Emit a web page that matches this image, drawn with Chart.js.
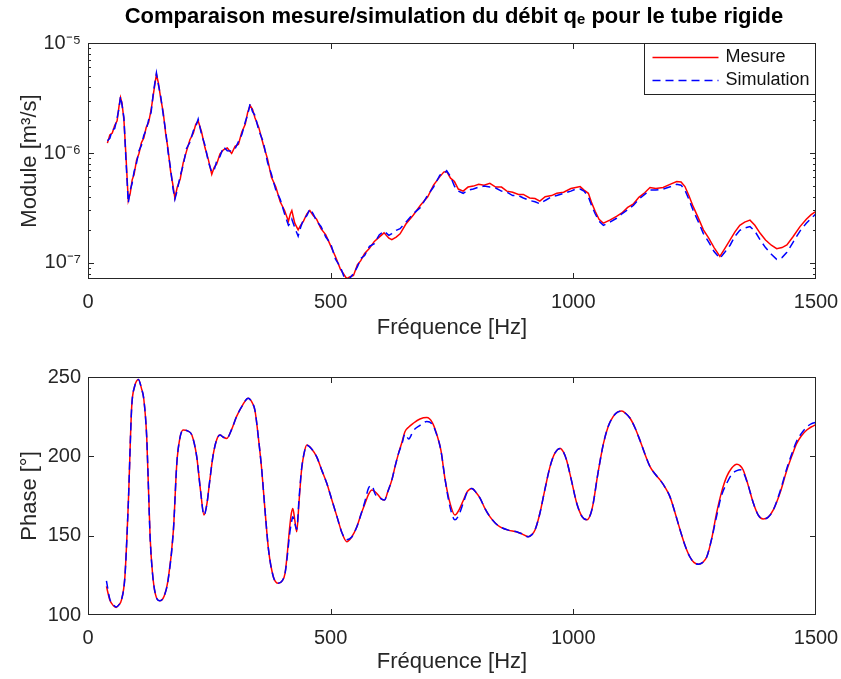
<!DOCTYPE html>
<html>
<head>
<meta charset="utf-8">
<script src="https://cdn.jsdelivr.net/npm/chart.js@4.4.1/dist/chart.umd.min.js"></script>
<style>
  body { margin: 0; background: #fff; overflow: hidden; }
  .panel { position: absolute; left: 0; width: 841px; }
</style>
</head>
<body>
<div class="panel" style="top:0;height:345px"><canvas id="moduleChart"></canvas></div>
<div class="panel" style="top:345px;height:334px"><canvas id="phaseChart"></canvas></div>
<script>
// --- module |q_e| (values in units of 1e-7 m3/s) ---
const moduleFreq = [
  40, 45, 50, 55, 60, 64, 67, 70, 74, 78,
  83, 87, 91, 95, 100, 105, 110, 115, 120, 125,
  130, 135, 141, 145, 150, 155, 160, 165, 170, 175,
  179, 184, 190, 196, 203, 210, 217, 222, 227, 234,
  241, 248, 255, 260, 265, 272, 279, 287, 296, 303,
  310, 317, 324, 329, 334, 339, 344, 352, 361, 370,
  378, 387, 396, 405, 413, 417, 420, 426, 433, 438,
  444, 451, 457, 464, 471, 480, 490, 500, 510, 520,
  527, 533, 540, 547, 555, 562, 570, 580, 590, 600,
  610, 620, 626, 635, 643, 655, 670, 685, 700, 712,
  725, 733, 739, 747, 755, 763, 773, 783, 794, 805,
  816, 828, 840, 852, 863, 875, 887, 897, 910, 921,
  931, 942, 955, 966, 980, 995, 1005, 1014, 1022, 1031,
  1038, 1045, 1053, 1062, 1075, 1089, 1100, 1112, 1124, 1135,
  1147, 1158, 1170, 1185, 1198, 1213, 1222, 1230, 1238, 1247,
  1257, 1268, 1279, 1290, 1302, 1312, 1323, 1333, 1343, 1353,
  1364, 1374, 1385, 1396, 1408, 1419, 1430, 1440, 1453, 1467,
  1480, 1490, 1500
];
const moduleMesure = [
  12.3, 14.6, 15.2, 17.8, 19.6, 26.8, 32.0, 28.6, 20.0, 9.8,
  3.7, 4.3, 5.7, 6.4, 8.6, 9.9, 12.4, 13.7, 17.1, 19.0,
  24.6, 34.8, 52.0, 43.4, 31.0, 23.4, 15.1, 10.8, 6.9, 5.1,
  3.9, 4.9, 5.8, 8.1, 10.4, 13.2, 15.1, 18.2, 19.6, 15.5,
  11.2, 8.7, 6.4, 7.4, 7.9, 9.8, 10.7, 11.1, 9.9, 11.5,
  12.0, 15.5, 18.2, 23.4, 27.0, 25.0, 20.9, 17.0, 12.0, 8.8,
  6.0, 4.9, 3.6, 3.0, 2.4, 2.8, 3.0, 2.3, 2.0, 2.2,
  2.4, 2.8, 3.0, 2.7, 2.5, 2.05, 1.80, 1.43, 1.14, 0.88,
  0.79, 0.72, 0.75, 0.77, 0.96, 1.05, 1.22, 1.36, 1.57, 1.72,
  1.88, 1.68, 1.63, 1.72, 1.84, 2.26, 2.72, 3.35, 4.0, 5.1,
  6.1, 6.7, 6.8, 5.9, 5.5, 4.7, 4.5, 4.9, 5.0, 5.2,
  5.1, 5.3, 4.9, 4.9, 4.5, 4.4, 4.2, 4.2, 3.9, 3.85,
  3.65, 4.0, 4.1, 4.3, 4.4, 4.75, 4.85, 4.95, 4.6, 4.3,
  3.5, 2.95, 2.5, 2.3, 2.45, 2.65, 2.85, 3.2, 3.45, 3.95,
  4.35, 4.85, 4.75, 4.85, 5.15, 5.5, 5.45, 4.95, 4.1, 3.25,
  2.6, 2.0, 1.68, 1.38, 1.15, 1.35, 1.62, 1.92, 2.2, 2.35,
  2.45, 2.2, 1.86, 1.62, 1.45, 1.35, 1.38, 1.46, 1.74, 2.14,
  2.5, 2.75, 2.95
];
const moduleSimulation = [
  12.9, 13.6, 16.2, 16.7, 20.8, 25.6, 32.8, 27.5, 21.0, 9.0,
  3.5, 4.6, 5.3, 6.8, 8.1, 10.5, 11.7, 14.5, 16.2, 20.1,
  23.4, 36.2, 53.5, 41.8, 32.4, 22.3, 15.9, 10.2, 7.3, 4.8,
  3.8, 4.6, 6.2, 7.7, 11.0, 12.5, 15.9, 17.4, 20.3, 14.7,
  11.8, 8.3, 6.7, 7.0, 8.4, 9.3, 11.4, 10.5, 10.4, 10.9,
  12.7, 14.7, 19.1, 22.3, 28.0, 23.8, 22.0, 16.0, 12.7, 8.2,
  6.4, 4.6, 3.8, 2.8, 2.2, 2.3, 2.5, 2.1, 1.75, 2.1,
  2.5, 2.7, 3.1, 2.8, 2.4, 2.15, 1.72, 1.50, 1.08, 0.92,
  0.76, 0.70, 0.73, 0.80, 0.92, 1.10, 1.17, 1.42, 1.50, 1.80,
  1.95, 1.78, 1.85, 1.98, 2.05, 2.35, 2.80, 3.20, 4.15, 4.9,
  6.3, 6.4, 6.9, 6.1, 5.0, 4.5, 4.3, 4.6, 4.7, 4.9,
  5.0, 4.9, 4.8, 4.5, 4.4, 4.1, 4.1, 3.9, 3.7, 3.6,
  3.45, 3.7, 4.0, 4.1, 4.3, 4.5, 4.7, 4.7, 4.5, 4.0,
  3.3, 2.8, 2.4, 2.2, 2.35, 2.55, 2.8, 3.05, 3.35, 3.8,
  4.2, 4.6, 4.6, 4.7, 4.9, 5.2, 5.1, 4.6, 3.8, 3.0,
  2.4, 1.85, 1.55, 1.27, 1.10, 1.25, 1.45, 1.75, 1.98, 2.08,
  2.14, 1.95, 1.62, 1.38, 1.20, 1.08, 1.12, 1.25, 1.55, 1.95,
  2.3, 2.55, 2.8
];
const moduleTicks = [1e-7, 1e-6, 1e-5];
const moduleTickLabels = ['10\u207B\u2077', '10\u207B\u2076', '10\u207B\u2075'];

// --- phase (degrees) ---
const phaseFreq = [
  38, 45, 52, 58, 64, 69, 76, 83, 90, 96,
  104, 110, 115, 121, 128, 133, 139, 148, 157, 165,
  176, 183, 189, 196, 205, 214, 224, 232, 239, 245,
  251, 258, 265, 272, 279, 286, 296, 306, 318, 330,
  338, 344, 351, 358, 365, 372, 382, 392, 400, 406,
  411, 415, 419, 422, 426, 430, 435, 440, 446, 451,
  460, 471, 482, 492, 502, 513, 523, 533, 543, 554,
  562, 571, 578, 585, 592, 598, 605, 611, 618, 626,
  633, 640, 647, 653, 661, 670, 684, 698, 710, 718,
  727, 736, 746, 756, 764, 773, 782, 791, 800, 808,
  818, 828, 839, 849, 866, 883, 895, 907, 914, 921,
  931, 942, 952, 962, 973, 980, 986, 996, 1007, 1018,
  1028, 1036, 1041, 1050, 1062, 1072, 1082, 1091, 1100, 1108,
  1117, 1127, 1137, 1148, 1158, 1168, 1179, 1189, 1199, 1210,
  1220, 1230, 1240, 1249, 1258, 1266, 1275, 1285, 1295, 1305,
  1316, 1326, 1337, 1344, 1350, 1360, 1371, 1381, 1391, 1401,
  1412, 1426, 1440, 1450, 1460, 1470, 1481, 1490, 1500
];
const phaseMesure = [
  118, 109.5, 106, 104.8, 106.5, 109.5, 124, 170, 231, 244,
  248.5, 243, 236, 212, 149, 126, 113, 109, 112, 122,
  153.6, 195.6, 211, 216.6, 216, 213.4, 199.8, 178, 163, 170,
  185, 201, 210.3, 213.4, 212, 211.3, 217, 225, 232, 236.6,
  234, 229, 212, 191.4, 165, 141, 124, 120, 121.5, 126.3,
  140, 153.6, 164, 167.2, 160, 152.5, 172, 191.4, 203, 207.1,
  205, 199.8, 191, 183, 173, 162, 152, 146.2, 149, 155.6,
  163, 170.4, 176, 178.8, 177.5, 175.6, 173, 172.5, 178, 185,
  194, 202, 209, 215.5, 218.5, 220.8, 223.5, 224.4, 221, 214.5,
  204, 185, 170.4, 163, 166, 172, 178, 179.8, 177, 173.5,
  167, 162, 158, 155.6, 153.5, 152.5, 151, 149.3, 150.5, 153.6,
  164, 180, 193.5, 202, 205, 202.5, 197.7, 185, 170.4, 162,
  160, 164, 170.4, 188, 208, 219, 225, 227.8, 228.5, 227,
  224, 218, 210.3, 201, 193.5, 189, 185, 180.5, 174.6, 164,
  153.6, 144, 136.7, 133, 132, 133, 136.7, 148, 164, 177,
  187.2, 192.5, 195, 194, 191.4, 182, 170.4, 163, 160.5, 161.5,
  166.2, 177, 191.4, 200, 208, 213, 216.6, 218.5, 220
];
const phaseSimulation = [
  121.5, 110, 106.5, 105, 106.5, 109.5, 124, 170, 231, 244,
  248.5, 243, 236, 212, 149, 126, 113, 109, 112, 122,
  153.6, 195.6, 211, 216.6, 216, 213.4, 199.8, 178, 163, 170,
  185, 201, 210.3, 213.4, 212, 211.3, 217, 225, 232, 236.6,
  234, 229, 212, 191.4, 165, 141, 124, 120, 121.5, 126.3,
  138, 150, 158, 162, 158, 154, 174, 192, 203, 207,
  205, 199.8, 191, 183, 173, 162, 152, 147.5, 149, 155.6,
  163, 172, 180, 181.5, 176, 175, 173, 172.5, 178, 185,
  194, 202, 208, 214, 211, 216, 219.5, 222, 220, 214,
  204, 185, 168, 160, 163, 170.4, 178, 179.8, 177, 173.5,
  167, 162, 158, 155.6, 153.5, 152.5, 151, 149.3, 150.5, 153.6,
  164, 180, 193.5, 202, 205, 202.5, 197.7, 185, 170.4, 162,
  160, 164, 170.4, 188, 208, 219, 225, 227.8, 228.5, 227,
  224, 218, 210.3, 201, 193.5, 189, 185, 180.5, 174.6, 164,
  153.6, 144, 136.7, 133, 132, 133, 136.7, 148, 162, 175,
  183, 188.5, 191, 191.5, 190, 182, 170.4, 163, 160.5, 161.5,
  166.2, 178, 192.5, 201.5, 209.5, 214.5, 218.5, 220.5, 221.5
];

const freqTicks = [0, 500, 1000, 1500];
const chartTitle = 'Comparaison mesure/simulation du débit q\u2091 pour le tube rigide';
const FONT = "'Liberation Sans', Arial, Helvetica, sans-serif";
const AXIS_COLOR = '#262626';

Chart.defaults.font.family = FONT;
Chart.defaults.color = AXIS_COLOR;

// inward tick marks, box, title over the axes and legend, drawn like the matlab axes
const matlabFrame = {
  id: 'matlabFrame',
  afterDraw(chart, args, opts) {
    const { ctx, chartArea: a, scales: { x, y } } = chart;
    ctx.save();
    ctx.strokeStyle = AXIS_COLOR;
    ctx.lineWidth = 1;
    ctx.beginPath();
    x.ticks.forEach((t) => {
      const px = Math.round(x.getPixelForValue(t.value)) + 0.5;
      if (px <= a.left + 1 || px >= a.right - 1) return;
      ctx.moveTo(px, a.bottom); ctx.lineTo(px, a.bottom - 6);
      ctx.moveTo(px, a.top); ctx.lineTo(px, a.top + 6);
    });
    y.ticks.forEach((t) => {
      const py = Math.round(y.getPixelForValue(t.value)) + 0.5;
      if (py <= a.top + 1 || py >= a.bottom - 1) return;
      ctx.moveTo(a.left, py); ctx.lineTo(a.left + 6, py);
      ctx.moveTo(a.right, py); ctx.lineTo(a.right - 6, py);
    });
    (opts.minor || []).forEach((v) => {
      const py = Math.round(y.getPixelForValue(v)) + 0.5;
      if (py <= a.top + 1 || py >= a.bottom - 1) return;
      ctx.moveTo(a.left, py); ctx.lineTo(a.left + 3, py);
      ctx.moveTo(a.right, py); ctx.lineTo(a.right - 3, py);
    });
    ctx.stroke();
    ctx.strokeRect(a.left + 0.5, a.top + 0.5, a.width - 1, a.height - 1);

    if (opts.title) {
      ctx.fillStyle = '#000';
      ctx.font = 'bold 22px ' + FONT;
      ctx.textAlign = 'center';
      ctx.textBaseline = 'middle';
      ctx.fillText(opts.title, (a.left + a.right) / 2 + 2, 17);
      ctx.textAlign = 'left';
    }

    if (opts.legend) {
      const w = 171, h = 51;
      const lx = Math.round(a.right - w - 1) + 0.5, ly = Math.round(a.top) + 0.5;
      ctx.fillStyle = '#fff';
      ctx.fillRect(lx, ly, w, h);
      ctx.strokeStyle = '#222';
      ctx.strokeRect(lx, ly, w, h);
      ctx.font = '18px ' + FONT;
      ctx.textBaseline = 'middle';
      chart.data.datasets.forEach((ds, i) => {
        const ry = ly + 14 + i * 23;
        ctx.strokeStyle = ds.borderColor;
        ctx.lineWidth = 1.5;
        ctx.setLineDash(ds.borderDash || []);
        ctx.beginPath();
        ctx.moveTo(lx + 8, ry); ctx.lineTo(lx + 74, ry);
        ctx.stroke();
        ctx.setLineDash([]);
        ctx.fillStyle = '#111';
        ctx.fillText(ds.label, lx + 81, ry);
      });
    }
    ctx.restore();
  }
};

function xAxis(height, tickPad, titlePad) {
  return {
    type: 'linear', min: 0, max: 1500,
    grid: { display: false, drawTicks: false },
    border: { display: false },
    afterBuildTicks: (s) => { s.ticks = freqTicks.map((v) => ({ value: v })); },
    ticks: { padding: tickPad, font: { size: 20 }, maxRotation: 0, autoSkip: false, callback: (v) => String(v) },
    title: { display: true, text: 'Fréquence [Hz]', font: { size: 22 }, padding: { top: 0, bottom: titlePad } },
    afterFit: (s) => { s.height = height; s.paddingLeft = 0; s.paddingRight = 0; },
  };
}

function series(freq, values, scale) {
  return freq.map((f, i) => ({ x: f, y: values[i] * scale }));
}

const mesureStyle = { borderColor: '#ff0000', borderWidth: 1.5, pointRadius: 0, order: 2 };
const simulationStyle = { borderColor: '#0000ff', borderWidth: 1.5, borderDash: [8, 5], pointRadius: 0, order: 1 };

const minorTicks = [];
[1e-8, 1e-7, 1e-6].forEach((d) => { for (let k = 2; k <= 9; k++) minorTicks.push(k * d); });

new Chart(document.getElementById('moduleChart'), {
  type: 'line',
  data: {
    datasets: [
      { label: 'Mesure', data: series(moduleFreq, moduleMesure, 1e-7), ...mesureStyle },
      { label: 'Simulation', data: series(moduleFreq, moduleSimulation, 1e-7), ...simulationStyle },
    ],
  },
  options: {
    responsive: true, maintainAspectRatio: false, animation: false, events: [],
    layout: { padding: { left: 0, right: 25, top: 43, bottom: 0 } },
    plugins: {
      legend: { display: false },
      tooltip: { enabled: false },
      title: { display: false },
      matlabFrame: { legend: true, minor: minorTicks, title: chartTitle },
    },
    scales: {
      x: xAxis(66, 11, 4),
      y: {
        type: 'logarithmic', min: 7.15e-8, max: 1e-5,
        grid: { display: false, drawTicks: false },
        border: { display: false },
        afterBuildTicks: (s) => { s.ticks = moduleTicks.map((v) => ({ value: v })); },
        ticks: { padding: 7, font: { size: 20 }, callback: (v) => moduleTickLabels[moduleTicks.indexOf(v)] },
        title: { display: true, text: 'Module [m³/s]', font: { size: 22 }, padding: { top: 17, bottom: 0 } },
        afterFit: (s) => { s.width = 88; },
      },
    },
  },
  plugins: [matlabFrame],
});

new Chart(document.getElementById('phaseChart'), {
  type: 'line',
  data: {
    datasets: [
      { label: 'Mesure', data: series(phaseFreq, phaseMesure, 1), cubicInterpolationMode: 'monotone', ...mesureStyle },
      { label: 'Simulation', data: series(phaseFreq, phaseSimulation, 1), cubicInterpolationMode: 'monotone', ...simulationStyle },
    ],
  },
  options: {
    responsive: true, maintainAspectRatio: false, animation: false, events: [],
    layout: { padding: { left: 0, right: 25, top: 32, bottom: 0 } },
    plugins: {
      legend: { display: false },
      tooltip: { enabled: false },
      matlabFrame: { legend: false },
    },
    scales: {
      x: xAxis(64, 11, 3.5),
      y: {
        type: 'linear', min: 100, max: 250,
        grid: { display: false, drawTicks: false },
        border: { display: false },
        ticks: { stepSize: 50, padding: 7, font: { size: 20 } },
        title: { display: true, text: 'Phase [°]', font: { size: 22 }, padding: { top: 17, bottom: 0 } },
        afterFit: (s) => { s.width = 88; },
      },
    },
  },
  plugins: [matlabFrame],
});
</script>
</body>
</html>
